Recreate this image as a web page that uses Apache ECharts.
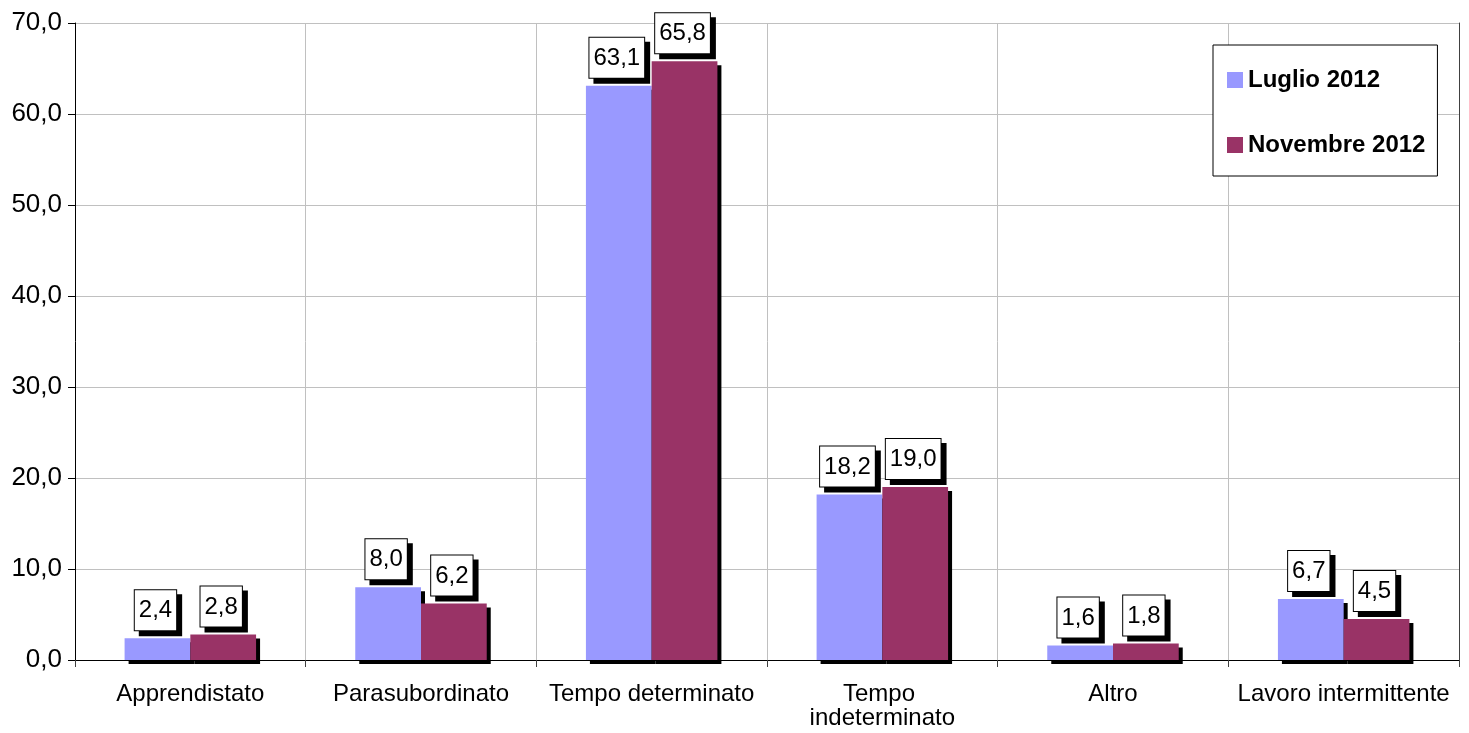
<!DOCTYPE html>
<html>
<head>
<meta charset="utf-8">
<script src="https://cdn.jsdelivr.net/npm/echarts@6/dist/echarts.min.js"></script>
<style>
html,body{margin:0;padding:0;background:#fff;}
#chart{width:1469px;height:733px;}
</style>
</head>
<body>
<div id="chart"></div>
<script>
const categories = ['Apprendistato', 'Parasubordinato', 'Tempo determinato', 'Tempo indeterminato', 'Altro', 'Lavoro intermittente'];
const seriesNames = ['Luglio 2012', 'Novembre 2012'];
const luglio2012 = [2.4, 8.0, 63.1, 18.2, 1.6, 6.7];
const novembre2012 = [2.8, 6.2, 65.8, 19.0, 1.8, 4.5];
const colors = ['#9999FF', '#993366'];

const FONT = '"Liberation Sans", Arial, sans-serif';
const fmt = v => v.toFixed(1).replace('.', ',');

const labelStyle = {
  show: true,
  position: 'top',
  distance: 8,
  offset: [-2, 0],
  formatter: p => fmt(p.value),
  color: '#000',
  fontFamily: FONT,
  fontSize: 24,
  lineHeight: 27,
  backgroundColor: '#fff',
  borderColor: '#000',
  borderWidth: 1,
  padding: [7, 4, 6, 4],
  shadowColor: '#000',
  shadowOffsetX: 5,
  shadowOffsetY: 5,
  shadowBlur: 0
};

function makeSeries(name, data, color) {
  return {
    name: name,
    type: 'bar',
    data: data,
    xAxisIndex: 0,
    yAxisIndex: 0,
    barGap: '0%',
    barCategoryGap: '43%',
    itemStyle: {
      color: color,
      shadowColor: '#000',
      shadowOffsetX: 4,
      shadowOffsetY: 4,
      shadowBlur: 0
    },
    label: labelStyle,
    emphasis: { disabled: true }
  };
}

const chart = echarts.init(document.getElementById('chart'), null, { renderer: 'canvas' });
chart.setOption({
  animation: false,
  backgroundColor: '#fff',
  textStyle: { fontFamily: FONT },
  grid: { left: 75, right: 10, top: 23, bottom: 73, containLabel: false },
  legend: {
    orient: 'vertical',
    left: 1213,
    top: 45,
    data: seriesNames,
    icon: 'rect',
    itemWidth: 16,
    itemHeight: 16,
    itemGap: 41,
    padding: [23, 12, 19, 14],
    backgroundColor: '#fff',
    borderColor: '#000',
    borderWidth: 1,
    textStyle: { fontFamily: FONT, fontSize: 24, fontWeight: 'bold', color: '#000', lineHeight: 24 }
  },
  xAxis: [
    {
      type: 'category',
      data: categories,
      position: 'bottom',
      axisLine: { lineStyle: { color: '#404040', width: 1 } },
      axisTick: { show: true, length: 7, lineStyle: { color: '#404040' } },
      axisLabel: {
        interval: 0,
        color: '#000',
        fontFamily: FONT,
        fontSize: 24,
        lineHeight: 24,
        margin: 22,
        width: 222,
        overflow: 'break'
      },
      splitLine: { show: true, lineStyle: { color: '#c0c0c0', width: 1 } }
    },
    {
      type: 'category',
      data: categories,
      position: 'top',
      axisLine: { lineStyle: { color: '#000', width: 1 } },
      axisTick: { show: false },
      axisLabel: { show: false },
      splitLine: { show: false }
    }
  ],
  yAxis: [
    {
      type: 'value',
      min: 0,
      max: 70,
      interval: 10,
      position: 'left',
      axisLine: { show: true, lineStyle: { color: '#000', width: 1 } },
      axisTick: { show: true, length: 7, lineStyle: { color: '#000' } },
      axisLabel: {
        formatter: v => fmt(v),
        color: '#000',
        fontFamily: FONT,
        fontSize: 26,
        margin: 13
      },
      splitLine: { show: true, lineStyle: { color: '#c0c0c0', width: 1 } }
    },
    {
      type: 'value',
      min: 0,
      max: 70,
      interval: 10,
      position: 'right',
      axisLine: { show: true, lineStyle: { color: '#404040', width: 1 } },
      axisTick: { show: false },
      axisLabel: { show: false },
      splitLine: { show: false }
    }
  ],
  series: [
    makeSeries(seriesNames[0], luglio2012, colors[0]),
    makeSeries(seriesNames[1], novembre2012, colors[1])
  ]
});
</script>
</body>
</html>
